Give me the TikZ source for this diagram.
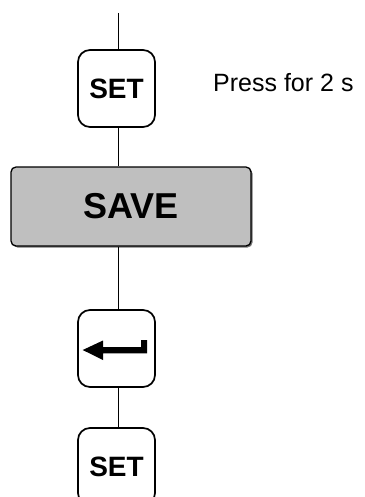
\documentclass[tikz,border=0pt]{standalone}
\usepackage{fontspec}
\setmainfont{Liberation Sans}
\begin{document}
\begin{tikzpicture}[x=1pt,y=-1pt,
  key/.style={draw=black, line width=1.7pt, rounded corners=12pt, minimum width=77pt, minimum height=77pt, inner sep=0pt, font=\bfseries\fontsize{28}{32}\selectfont},
  savebox/.style={draw=black, line width=1.3pt, rounded corners=5pt, fill=gray!50!white, minimum width=240pt, minimum height=79pt, inner sep=0pt, font=\bfseries\fontsize{36}{42}\selectfont},
  conn/.style={line width=0.9pt}]
\useasboundingbox (0,0) rectangle (364,497);
\clip (0,0) rectangle (364,497);
\coordinate (top) at (118.7,13);
\node[key] (set1) at (116.5,88.5) {SET};
\fill[black!55] (12.5,168.5) [rounded corners=5pt] rectangle (252.5,247.5);
\node[savebox] (save) at (131,206.5) {SAVE};
\node[key] (enter) at (116.5,348.5) {};
\node[key] (set2) at (116.5,466.5) {SET};
\fill[black] (82.7,350) -- (103,340.5) -- (103,347) -- (141,347) -- (141,340) -- (147,340) -- (147,353.3) -- (103,353.3) -- (103,360) -- cycle;
\node[anchor=base west, inner sep=0pt, font=\fontsize{25}{30}\selectfont] (note) at (213,92) {Press for 2 s};
\draw[conn] (top) -- (set1.north -| top);
\draw[conn] (set1.south -| top) -- (save.north -| top);
\draw[conn] (save.south -| top) -- (enter.north -| top);
\draw[conn] (enter.south -| top) -- (set2.north -| top);
\end{tikzpicture}
\end{document}
